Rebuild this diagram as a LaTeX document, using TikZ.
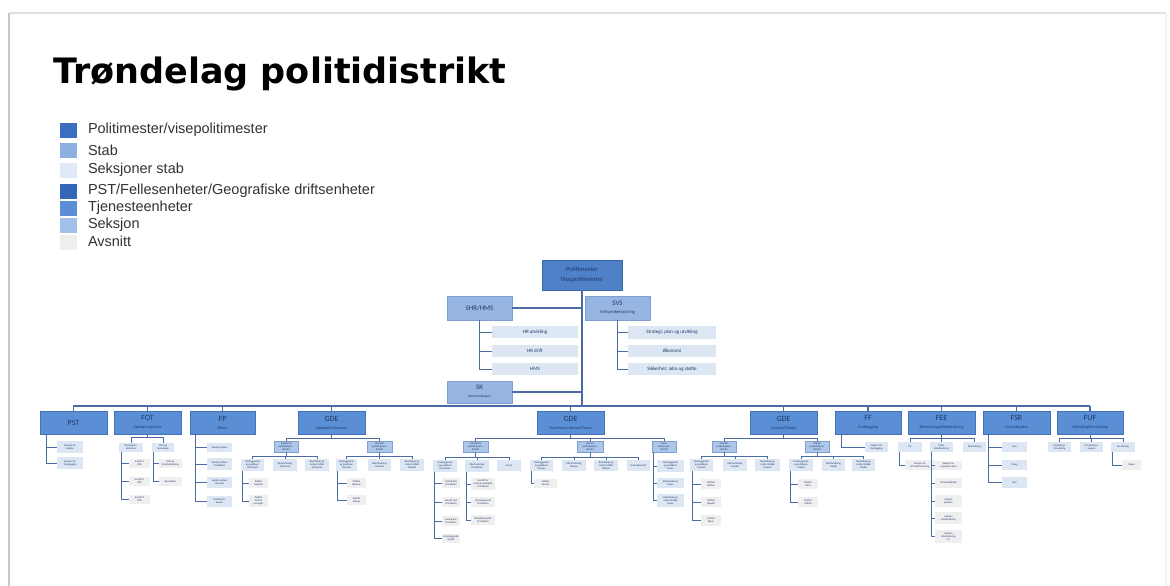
\documentclass[tikz,border=0pt]{standalone}
\usepackage{fontspec}
\setmainfont{Liberation Sans}
\newfontfamily\titlefont{DejaVu Sans}
\newfontfamily\chartfont{Carlito}
\definecolor{cLead}{HTML}{4F81C9}
\definecolor{cLeadB}{HTML}{3A65A8}
\definecolor{cUnit}{HTML}{5A8FD6}
\definecolor{cUnitB}{HTML}{4672B8}
\definecolor{cStab}{HTML}{97B5E2}
\definecolor{cStabB}{HTML}{7F9FD0}
\definecolor{cSStab}{HTML}{DDE7F4}
\definecolor{cTE}{HTML}{AEC6E8}
\definecolor{cTEB}{HTML}{7D9FD3}
\definecolor{cSek}{HTML}{DDE6F3}
\definecolor{cAvs}{HTML}{EFEFEF}
\definecolor{cLine}{HTML}{4A6CA2}
\definecolor{cTxt}{HTML}{1E3766}
\definecolor{cLeg}{HTML}{333333}
\definecolor{lg1}{HTML}{3B6DC0}
\definecolor{lg2}{HTML}{8EB0E1}
\definecolor{lg3}{HTML}{DFE9F7}
\definecolor{lg4}{HTML}{3567B9}
\definecolor{lg5}{HTML}{5B8ED6}
\definecolor{lg6}{HTML}{A0C0EA}
\definecolor{lg7}{HTML}{EEEEEE}
\newcommand\subt[1]{{\fontsize{4}{5}\selectfont #1}}
\newcommand\tnf{\fontsize{2.6}{3}\selectfont}
\newcommand\bx[7]{\node[#2, minimum width={(#5)-(#3)}, minimum height={(#6)-(#4)}] (#1) at ({((#3)+(#5))/2},{((#4)+(#6))/2}) {#7};}
\tikzset{
  every node/.style={inner sep=0pt, outer sep=0pt, align=center},
  lead/.style={fill=cLead, draw=cLeadB, line width=0.8pt, text=cTxt, font=\chartfont\fontsize{6.5}{8}\selectfont},
  unit/.style={fill=cUnit, draw=cUnitB, line width=0.6pt, text=cTxt, font=\chartfont\fontsize{8}{7}\selectfont},
  stab/.style={fill=cStab, draw=cStabB, line width=0.6pt, text=cTxt, font=\chartfont\fontsize{7}{7}\selectfont},
  sstab/.style={fill=cSStab, text=cTxt, font=\chartfont\fontsize{5}{6}\selectfont},
  te/.style={fill=cTE, draw=cTEB, line width=0.4pt, text=cTxt, font=\chartfont\tnf},
  sek/.style={fill=cSek, text=cTxt, font=\chartfont\tnf},
  avs/.style={fill=cAvs, text=cTxt, font=\chartfont\tnf},
  conn/.style={draw=cLine, line width=1.7pt},
  sconn/.style={draw=cLine, line width=1pt},
  legsq/.style={minimum width=17pt, minimum height=15pt},
  legtx/.style={anchor=west, text=cLeg, font=\fontsize{14.5}{16}\selectfont},
}
\begin{document}
\begin{tikzpicture}[x=1pt,y=-1pt]
\useasboundingbox (0,0) rectangle (1170,586);
\fill[white] (0,0) rectangle (1170,586);
% slide frame
\draw[draw=black!12, line width=2pt] (9,13) -- (1166,13);
\draw[draw=black!22, line width=2pt] (9,13) -- (9,586);
\draw[draw=black!6, line width=1.5pt] (1166,13) -- (1166,586);
% title
\node[anchor=base west, font=\titlefont\bfseries\fontsize{35}{40}\selectfont] (title) at (53,83) {Trøndelag politidistrikt};
% legend
\node[legsq, fill=lg1] (l1) at (68.5,130.5) {};
\node[legsq, fill=lg2] (l2) at (68.5,150.5) {};
\node[legsq, fill=lg3] (l3) at (68.5,170.5) {};
\node[legsq, fill=lg4] (l4) at (68.5,191) {};
\node[legsq, fill=lg5] (l5) at (68.5,208) {};
\node[legsq, fill=lg6] (l6) at (68.5,225) {};
\node[legsq, fill=lg7] (l7) at (68.5,242) {};
\node[legtx] (l1t) at (88,130) {Politimester/visepolitimester};
\node[legtx] (l2t) at (88,150) {Stab};
\node[legtx] (l3t) at (88,170) {Seksjoner stab};
\node[legtx] (l4t) at (88,190.5) {PST/Fellesenheter/Geografiske driftsenheter};
\node[legtx] (l5t) at (88,207.5) {Tjenesteenheter};
\node[legtx] (l6t) at (88,224.5) {Seksjon};
\node[legtx] (l7t) at (88,241.5) {Avsnitt};
% top of chart
\bx{pm}{lead}{542}{260}{622}{290}{Politimester\\[2pt]Visepolitimester}
\bx{shr}{stab}{447}{296}{512}{320}{SHR/HMS}
\bx{svs}{stab}{585}{296}{650}{320}{SVS\\[1pt]{\fontsize{4.5}{5}\selectfont Virksomhetsstyring}}
\bx{hru}{sstab}{492}{326}{578}{338}{HR utvikling}
\bx{hrd}{sstab}{492}{345}{578}{357}{HR drift}
\bx{hms}{sstab}{492}{363}{578}{375}{HMS}
\bx{spu}{sstab}{628}{326}{716}{339}{Strategi, plan og utvikling}
\bx{oko}{sstab}{628}{345}{716}{357}{Økonomi}
\bx{sik}{sstab}{628}{363}{716}{375}{Sikkerhet, adm og støtte}
\bx{sk}{stab}{447}{381}{512}{403}{SK\\[1pt]{\fontsize{3.5}{4}\selectfont Kommunikasjon}}
\coordinate (bus) at (73,406);
\coordinate (busE) at (1090,406);
% top-level units
\bx{pst}{unit}{40}{411}{107}{434}{PST}
\bx{fot}{unit}{114}{411}{181}{434}{FOT\\[1pt]\subt{Operativ tjeneste}}
\bx{fp}{unit}{190}{411}{255}{434}{FP\\[1pt]\subt{Påtale}}
\bx{gde1}{unit}{298}{411}{365}{434}{GDE\\[1pt]\subt{Namdal/Innherred}}
\bx{gde2}{unit}{537}{411}{604}{434}{GDE\\[1pt]\subt{Trondheim/Værnes/Fosen}}
\bx{gde3}{unit}{750}{411}{817}{434}{GDE\\[1pt]\subt{Gauldal/Orkdal}}
\bx{ff}{unit}{835}{411}{901}{434}{FF\\[1pt]\subt{Forebygging}}
\bx{fee}{unit}{908}{411}{975}{434}{FEE\\[1pt]\subt{Etterretning/Etterforskning}}
\bx{fsr}{unit}{983}{411}{1050}{434}{FSR\\[1pt]\subt{Sivil rettspleie}}
\bx{fuf}{unit}{1057}{411}{1123}{434}{FUF\\[1pt]\subt{Utlending/Forvaltning}}
% PST
\bx{pst1}{sek}{57}{441}{83}{453}{Seksjon for\\ledelse}
\bx{pst2}{sek}{57}{457}{83}{469}{Seksjon for\\forebygging}
% FOT
\bx{fot1}{sek}{119}{443}{143}{452}{Operasjons-\\sentralen}
\bx{fot2}{sek}{152}{443}{174}{452}{Plan og\\beredskap}
\bx{fot1a}{avs}{129}{459}{150}{468}{Avsnitt 1\\OPS}
\bx{fot1b}{avs}{129}{477}{150}{486}{Avsnitt 2\\OPS}
\bx{fot1c}{avs}{129}{495}{150}{504}{Avsnitt 3\\OPS}
\bx{fot2a}{avs}{159}{459}{182}{468}{Plan og\\krisehåndtering}
\bx{fot2b}{avs}{159}{477}{182}{486}{Beredskap}
% FP
\bx{fp1}{sek}{207}{443}{232}{452}{Seksjon påtale}
\bx{fp2}{sek}{207}{458}{232}{470}{Seksjon påtale\\Trondheim}
\bx{fp3}{sek}{207}{477}{232}{488}{Seksjon påtale\\Namdal}
\bx{fp4}{sek}{207}{496}{232}{507}{Straffesaks-\\kontor}
% GDE1
\bx{g1a}{te}{274}{441}{298}{452}{Innherred\\politistasjons-\\distrikt}
\bx{g1b}{te}{367}{441}{392}{452}{Namdal\\politistasjons-\\distrikt}
\bx{g1a1}{sek}{241}{459}{264}{471}{Forebyggende\\og publikum\\Innherred}
\bx{g1a2}{sek}{273}{459}{297}{471}{Etterforskning\\Innherred}
\bx{g1a3}{sek}{305}{459}{329}{471}{Beredskap og\\orden/trafikk\\Innherred}
\bx{g1a1a}{avs}{249}{478}{268}{488}{Politiet\\Stjørdal}
\bx{g1a1b}{avs}{249}{495}{268}{507}{Politiet\\Verdal/\\Levanger}
\bx{g1b1}{sek}{336}{459}{357}{471}{Forebyggende\\og publikum\\Namdal}
\bx{g1b2}{sek}{368}{459}{391}{471}{Etterforskning\\Namdal}
\bx{g1b3}{sek}{400}{459}{424}{471}{Beredskap og\\orden/trafikk\\Namdal}
\bx{g1b1a}{avs}{347}{478}{366}{488}{Politiet\\Namsos}
\bx{g1b1b}{avs}{347}{495}{366}{505}{Politiet\\Nærøy}
% GDE2
\bx{g2a}{te}{463}{441}{488}{452}{Trondheim\\politistasjons-\\distrikt}
\bx{g2b}{te}{577}{441}{603}{452}{Værnes\\politistasjons-\\distrikt}
\bx{g2c}{te}{652}{441}{676}{452}{Fosen\\lensmanns-\\distrikt}
\bx{g2a1}{sek}{433}{460}{457}{472}{Forebyggende\\og publikum\\Trondheim}
\bx{g2a2}{sek}{465}{460}{489}{472}{Etterforskning\\Trondheim}
\bx{g2a3}{sek}{497}{460}{521}{471}{Arrest}
\bx{g2a1a}{avs}{442}{478}{460}{488}{Avsnitt Øst\\Trondheim}
\bx{g2a1b}{avs}{442}{497}{460}{507}{Avsnitt Vest\\Trondheim}
\bx{g2a1c}{avs}{442}{516}{460}{526}{Avsnitt Sør\\Trondheim}
\bx{g2a1d}{avs}{442}{534}{460}{543}{Forebyggende\\avsnitt}
\bx{g2a2a}{avs}{471}{478}{495}{490}{Avsnitt for\\vold og sedelighet\\Trondheim}
\bx{g2a2b}{avs}{471}{497}{495}{507}{Vinningsavsnitt\\Trondheim}
\bx{g2a2c}{avs}{471}{515}{495}{525}{Narkotikaavsnitt\\Trondheim}
\bx{g2b1}{sek}{530}{460}{553}{471}{Forebyggende\\og publikum\\Værnes}
\bx{g2b2}{sek}{562}{460}{586}{471}{Etterforskning\\Værnes}
\bx{g2b3}{sek}{594}{460}{618}{471}{Beredskap og\\orden/trafikk\\Værnes}
\bx{g2b4}{sek}{627}{460}{650}{471}{Grensekontroll}
\bx{g2b1a}{avs}{534}{479}{557}{488}{Politiet\\Værnes}
\bx{g2c1}{sek}{657}{460}{684}{472}{Forebyggende\\og publikum\\Fosen}
\bx{g2c2}{sek}{657}{478}{684}{488}{Etterforskning\\Fosen}
\bx{g2c3}{sek}{657}{494}{684}{507}{Beredskap og\\orden/trafikk\\Fosen}
% GDE3
\bx{g3a}{te}{712}{441}{736}{452}{Gauldal\\politistasjons-\\distrikt}
\bx{g3b}{te}{805}{441}{829}{452}{Orkdal\\politistasjons-\\distrikt}
\bx{g3a1}{sek}{690}{459}{713}{471}{Forebyggende\\og publikum\\Gauldal}
\bx{g3a2}{sek}{723}{459}{747}{471}{Etterforskning\\Gauldal}
\bx{g3a3}{sek}{755}{459}{780}{471}{Beredskap og\\orden/trafikk\\Gauldal}
\bx{g3a1a}{avs}{701}{479}{721}{489}{Politiet\\Melhus}
\bx{g3a1b}{avs}{701}{497}{721}{507}{Politiet\\Oppdal}
\bx{g3a1c}{avs}{701}{515}{721}{526}{Politiet\\Røros}
\bx{g3b1}{sek}{789}{459}{813}{471}{Forebyggende\\og publikum\\Orkdal}
\bx{g3b2}{sek}{822}{459}{845}{471}{Etterforskning\\Orkdal}
\bx{g3b3}{sek}{852}{459}{875}{471}{Beredskap og\\orden/trafikk\\Orkdal}
\bx{g3b1a}{avs}{798}{479}{818}{489}{Politiet\\Hitra}
\bx{g3b1b}{avs}{798}{497}{818}{507}{Politiet\\Orkdal}
% FF
\bx{ff1}{sek}{865}{442}{888}{452}{Seksjon for\\forebygging}
% FEE
\bx{fee1}{sek}{898}{442}{922}{452}{Int}
\bx{fee2}{sek}{930}{442}{953}{452}{Felles\\etterforskning}
\bx{fee3}{sek}{963}{442}{986}{452}{Etterretning}
\bx{fee1a}{avs}{905}{460}{935}{470}{Seksjon for\\IKT-etterforskning}
\bx{fee2a}{avs}{935}{461}{962}{470}{Seksjon for\\organisert krim}
\bx{fee2b}{avs}{935}{478}{962}{488}{Kriminalteknikk}
\bx{fee2c}{avs}{935}{495}{962}{507}{Seksjon\\økokrim}
\bx{fee2d}{avs}{935}{512}{962}{524}{Seksjon\\etterforskning}
\bx{fee2e}{avs}{935}{530}{962}{543}{Seksjon\\etterforskning\\liv}
% FSR
\bx{fsr1}{sek}{1002}{442}{1027}{452}{Sivil}
\bx{fsr2}{sek}{1002}{460}{1027}{470}{Tvang}
\bx{fsr3}{sek}{1002}{477}{1027}{488}{Sivil}
% FUF
\bx{fuf1}{sek}{1048}{442}{1071}{452}{Utlendings-\\forvaltning}
\bx{fuf2}{sek}{1080}{442}{1103}{452}{Forvaltnings-\\seksjon}
\bx{fuf3}{sek}{1111}{442}{1135}{452}{Forvaltning}
\bx{fuf3a}{avs}{1122}{460}{1141}{470}{Våpen}
% ===== connectors =====
\draw[conn] (pm.south) -- (pm.south |- bus);
\draw[conn] (bus) -- (busE);
\draw[conn] (shr.east) -- (shr.east -| pm.south);
\draw[conn] (sk.east) -- (sk.east -| pm.south);
\foreach \c in {hru,hrd,hms} \draw[sconn] (shr.south) |- (\c.west);
\foreach \c in {spu,oko,sik} \draw[sconn] (svs.south) |- (\c.west);
\foreach \n in {pst,fot,fp,gde1,gde2,gde3,ff,fee,fsr,fuf} \draw[conn] (\n.north) -- (\n.north |- bus);
% sub-busses
\foreach \c in {fot1,fot2} \draw[sconn] (fot.south) -- ++(0,3) -| (\c.north);
\foreach \c in {g1a,g1b} \draw[sconn] (gde1.south) -- ++(0,4) -| (\c.north);
\foreach \c in {g1a1,g1a2,g1a3} \draw[sconn] (g1a.south) -- ++(0,4.5) -| (\c.north);
\foreach \c in {g1b1,g1b2,g1b3} \draw[sconn] (g1b.south) -- ++(0,4.5) -| (\c.north);
\foreach \c in {g2a,g2b,g2c} \draw[sconn] (gde2.south) -- ++(0,4) -| (\c.north);
\foreach \c in {g2a1,g2a2,g2a3} \draw[sconn] (g2a.south) -- ++(0,5) -| (\c.north);
\foreach \c in {g2b1,g2b2,g2b3,g2b4} \draw[sconn] (g2b.south) -- ++(0,5) -| (\c.north);
\foreach \c in {g3a,g3b} \draw[sconn] (gde3.south) -- ++(0,4) -| (\c.north);
\foreach \c in {g3a1,g3a2,g3a3} \draw[sconn] (g3a.south) -- ++(0,4.5) -| (\c.north);
\foreach \c in {g3b1,g3b2,g3b3} \draw[sconn] (g3b.south) -- ++(0,4.5) -| (\c.north);
\foreach \c in {fee1,fee2,fee3} \draw[sconn] (fee.south) -- ++(0,4) -| (\c.north);
\foreach \c in {fuf1,fuf2,fuf3} \draw[sconn] (fuf.south) -- ++(0,4) -| (\c.north);
% brackets
\foreach \c in {pst1,pst2} \draw[sconn] ([xshift=6pt]pst.south west) |- (\c.west);
\foreach \c in {fot1a,fot1b,fot1c} \draw[sconn] ([xshift=2.5pt]fot1.south west) |- (\c.west);
\foreach \c in {fot2a,fot2b} \draw[sconn] ([xshift=1.5pt]fot2.south west) |- (\c.west);
\foreach \c in {fp1,fp2,fp3,fp4} \draw[sconn] ([xshift=5pt]fp.south west) |- (\c.west);
\foreach \c in {g1a1a,g1a1b} \draw[sconn] ([xshift=1.5pt]g1a1.south west) |- (\c.west);
\foreach \c in {g1b1a,g1b1b} \draw[sconn] ([xshift=1.5pt]g1b1.south west) |- (\c.west);
\foreach \c in {g2a1a,g2a1b,g2a1c,g2a1d} \draw[sconn] ([xshift=1pt]g2a1.south west) |- (\c.west);
\foreach \c in {g2a2a,g2a2b,g2a2c} \draw[sconn] ([xshift=1.5pt]g2a2.south west) |- (\c.west);
\draw[sconn] ([xshift=1.5pt]g2b1.south west) |- (g2b1a.west);
\foreach \c in {g2c1,g2c2,g2c3} \draw[sconn] ([xshift=1pt]g2c.south west) |- (\c.west);
\foreach \c in {g3a1a,g3a1b,g3a1c} \draw[sconn] ([xshift=2pt]g3a1.south west) |- (\c.west);
\foreach \c in {g3b1a,g3b1b} \draw[sconn] ([xshift=1.5pt]g3b1.south west) |- (\c.west);
\draw[sconn] ([xshift=6pt]ff.south west) |- (ff1.west);
\draw[sconn] ([xshift=1.5pt]fee1.south west) |- (fee1a.west);
\foreach \c in {fee2a,fee2b,fee2c,fee2d,fee2e} \draw[sconn] ([xshift=1.5pt]fee2.south west) |- (\c.west);
\foreach \c in {fsr1,fsr2,fsr3} \draw[sconn] ([xshift=5pt]fsr.south west) |- (\c.west);
\draw[sconn] ([xshift=1.5pt]fuf3.south west) |- (fuf3a.west);
\end{tikzpicture}
\end{document}
